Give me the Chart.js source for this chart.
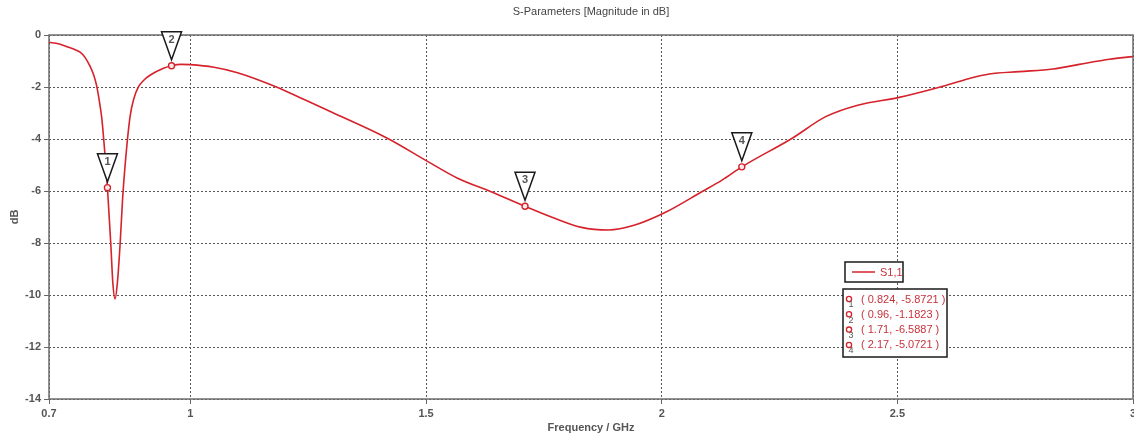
<!DOCTYPE html>
<html>
<head>
<meta charset="utf-8">
<script src="https://cdn.jsdelivr.net/npm/chart.js@4/dist/chart.umd.min.js"></script>
<style>
  html, body { margin: 0; padding: 0; background: #ffffff; }
  #wrap { width: 1134px; height: 439px; position: relative; }
</style>
</head>
<body>
<div id="wrap"><canvas id="c"></canvas></div>
<script>
// S11 reflection magnitude sweep
const freqGHz = [0.700, 0.720, 0.738, 0.752, 0.766, 0.776, 0.787, 0.795, 0.801, 0.806, 0.812, 0.8165, 0.824, 0.831, 0.8355,
  0.840, 0.845, 0.851, 0.856, 0.862, 0.872, 0.880, 0.890, 0.900, 0.915, 0.943, 0.960, 0.980, 1.000, 1.050, 1.100, 1.184,
  1.234, 1.298, 1.418, 1.504, 1.567, 1.638, 1.710, 1.773, 1.830, 1.887, 1.943, 2.007, 2.085, 2.128, 2.170, 2.277, 2.348,
  2.418, 2.504, 2.589, 2.653, 2.695, 2.759, 2.830, 2.886, 2.950, 3.000];
const s11dB = [-0.28, -0.34, -0.45, -0.54, -0.66, -0.85, -1.20, -1.55, -1.95, -2.45, -3.20, -4.10, -5.8721, -8.00, -9.55,
  -10.15, -9.55, -8.00, -6.35, -4.90, -3.14, -2.45, -1.99, -1.76, -1.54, -1.28, -1.1823, -1.13, -1.14, -1.24, -1.45, -2.01,
  -2.42, -2.95, -3.97, -4.87, -5.51, -6.03, -6.5887, -7.05, -7.40, -7.50, -7.31, -6.83, -6.03, -5.58, -5.0721, -3.97, -3.14,
  -2.69, -2.40, -2.01, -1.67, -1.50, -1.41, -1.31, -1.13, -0.93, -0.83];

// Curve markers
const markerNo = [1, 2, 3, 4];
const markerFreq = [0.824, 0.96, 1.71, 2.17];
const markerDb = [-5.8721, -1.1823, -6.5887, -5.0721];

// Axis ticks
const xTicks = [0.7, 1, 1.5, 2, 2.5, 3];
const yTicks = [-14, -12, -10, -8, -6, -4, -2, 0];

const seriesName = 'S1,1';
const chartTitle = 'S-Parameters [Magnitude in dB]';
const xTitle = 'Frequency / GHz';
const yTitle = 'dB';

const RED = '#d6222b';
const TEXT_RED = '#c8323c';
const FONT = "'Liberation Sans', Arial, sans-serif";

const curve = freqGHz.map((f, i) => ({ x: f, y: s11dB[i] }));
const markers = markerFreq.map((f, i) => ({ x: f, y: markerDb[i] }));

const decorPlugin = {
  id: 'decor',
  beforeDatasetsDraw(chart) {
    const { ctx, chartArea: a } = chart;
    ctx.save();
    ctx.strokeStyle = '#6e6e6e';
    ctx.lineWidth = 1.5;
    ctx.strokeRect(a.left, a.top, a.right - a.left, a.bottom - a.top);
    ctx.restore();
  },
  afterDatasetsDraw(chart) {
    const { ctx, scales } = chart;
    const xs = scales.x, ys = scales.y;
    ctx.save();
    // marker flags
    markerFreq.forEach((f, i) => {
      const px = xs.getPixelForValue(f);
      const py = ys.getPixelForValue(markerDb[i]);
      const top = py - 34, apex = py - 6, hw = 10;
      ctx.beginPath();
      ctx.moveTo(px - hw, top);
      ctx.lineTo(px + hw, top);
      ctx.lineTo(px, apex);
      ctx.closePath();
      ctx.fillStyle = '#ffffff';
      ctx.fill();
      ctx.strokeStyle = '#1a1a1a';
      ctx.lineWidth = 1.5;
      ctx.stroke();
      ctx.fillStyle = '#555555';
      ctx.font = 'bold 11px ' + FONT;
      ctx.textAlign = 'center';
      ctx.textBaseline = 'middle';
      ctx.fillText(String(markerNo[i]), px, top + 8);
    });

    // series legend box
    const lx = 845, ly = 262, lw = 58, lh = 20;
    ctx.fillStyle = '#ffffff';
    ctx.fillRect(lx, ly, lw, lh);
    ctx.strokeStyle = '#1a1a1a';
    ctx.lineWidth = 1.5;
    ctx.strokeRect(lx, ly, lw, lh);
    ctx.strokeStyle = RED;
    ctx.lineWidth = 1.5;
    ctx.beginPath();
    ctx.moveTo(lx + 7, ly + lh / 2);
    ctx.lineTo(lx + 30, ly + lh / 2);
    ctx.stroke();
    ctx.fillStyle = TEXT_RED;
    ctx.font = '11px ' + FONT;
    ctx.textAlign = 'left';
    ctx.textBaseline = 'middle';
    ctx.fillText(seriesName, lx + 35, ly + lh / 2 + 0.5);

    // marker readout box
    const bx = 843, by = 289, bw = 104, bh = 68;
    ctx.fillStyle = '#ffffff';
    ctx.fillRect(bx, by, bw, bh);
    ctx.strokeStyle = '#1a1a1a';
    ctx.lineWidth = 1.5;
    ctx.strokeRect(bx, by, bw, bh);
    markerFreq.forEach((f, i) => {
      const ry = by + 10 + i * 15.3;
      ctx.beginPath();
      ctx.arc(bx + 6, ry, 2.6, 0, Math.PI * 2);
      ctx.fillStyle = '#ffffff';
      ctx.fill();
      ctx.strokeStyle = RED;
      ctx.lineWidth = 1.3;
      ctx.stroke();
      ctx.fillStyle = '#555555';
      ctx.font = '9px ' + FONT;
      ctx.textAlign = 'center';
      ctx.fillText(String(markerNo[i]), bx + 8, ry + 6);
      ctx.fillStyle = TEXT_RED;
      ctx.font = '11px ' + FONT;
      ctx.textAlign = 'left';
      ctx.fillText('( ' + f + ', ' + markerDb[i] + ' )', bx + 18, ry + 0.5);
    });

    // title
    ctx.fillStyle = '#444444';
    ctx.font = '11px ' + FONT;
    ctx.textAlign = 'center';
    ctx.textBaseline = 'middle';
    ctx.fillText(chartTitle, (chart.chartArea.left + chart.chartArea.right) / 2, 12);
    ctx.restore();
  }
};

new Chart(document.getElementById('c'), {
  type: 'line',
  data: {
    datasets: [
      {
        label: seriesName,
        data: curve,
        borderColor: RED,
        borderWidth: 1.6,
        pointRadius: 0,
        fill: false,
        cubicInterpolationMode: 'monotone',
        order: 2
      },
      {
        label: 'markers',
        data: markers,
        showLine: false,
        pointRadius: 3,
        pointBorderWidth: 1.4,
        pointBorderColor: RED,
        pointBackgroundColor: 'rgba(255,255,255,0.85)',
        order: 1
      }
    ]
  },
  options: {
    responsive: true,
    maintainAspectRatio: false,
    animation: false,
    layout: { autoPadding: false, padding: { top: 35, right: 1, left: 0, bottom: 0 } },
    plugins: {
      legend: { display: false },
      title: { display: false },
      tooltip: { enabled: false }
    },
    scales: {
      x: {
        type: 'linear',
        min: 0.7,
        max: 3,
        afterBuildTicks: (s) => { s.ticks = xTicks.map(v => ({ value: v })); },
        afterFit: (s) => { s.height = 40; s.paddingLeft = 0; s.paddingRight = 0; },
        ticks: {
          color: '#555555',
          font: { family: FONT, size: 11, weight: 'bold' },
          padding: 3,
          maxRotation: 0,
          callback: (v) => String(v)
        },
        grid: {
          color: '#555555',
          lineWidth: 1,
          tickLength: 5,
          tickColor: '#666666',
          tickBorderDash: [],
          drawTicks: true
        },
        border: { display: false, dash: [2, 2] },
        title: {
          display: true,
          text: xTitle,
          color: '#555555',
          font: { family: FONT, size: 11, weight: 'bold' },
          padding: { top: 2, bottom: 4 }
        }
      },
      y: {
        type: 'linear',
        min: -14,
        max: 0,
        afterBuildTicks: (s) => { s.ticks = yTicks.map(v => ({ value: v })); },
        afterFit: (s) => { s.width = 49; s.paddingTop = 0; s.paddingBottom = 0; },
        ticks: {
          color: '#555555',
          font: { family: FONT, size: 11, weight: 'bold' },
          padding: 3,
          callback: (v) => String(v)
        },
        grid: {
          color: '#555555',
          lineWidth: 1,
          tickLength: 5,
          tickColor: '#666666',
          tickBorderDash: [],
          drawTicks: true
        },
        border: { display: false, dash: [2, 2] },
        title: {
          display: true,
          text: yTitle,
          color: '#555555',
          font: { family: FONT, size: 11, weight: 'bold' },
          padding: { top: 8, bottom: 0 }
        }
      }
    }
  },
  plugins: [decorPlugin]
});
</script>
</body>
</html>
